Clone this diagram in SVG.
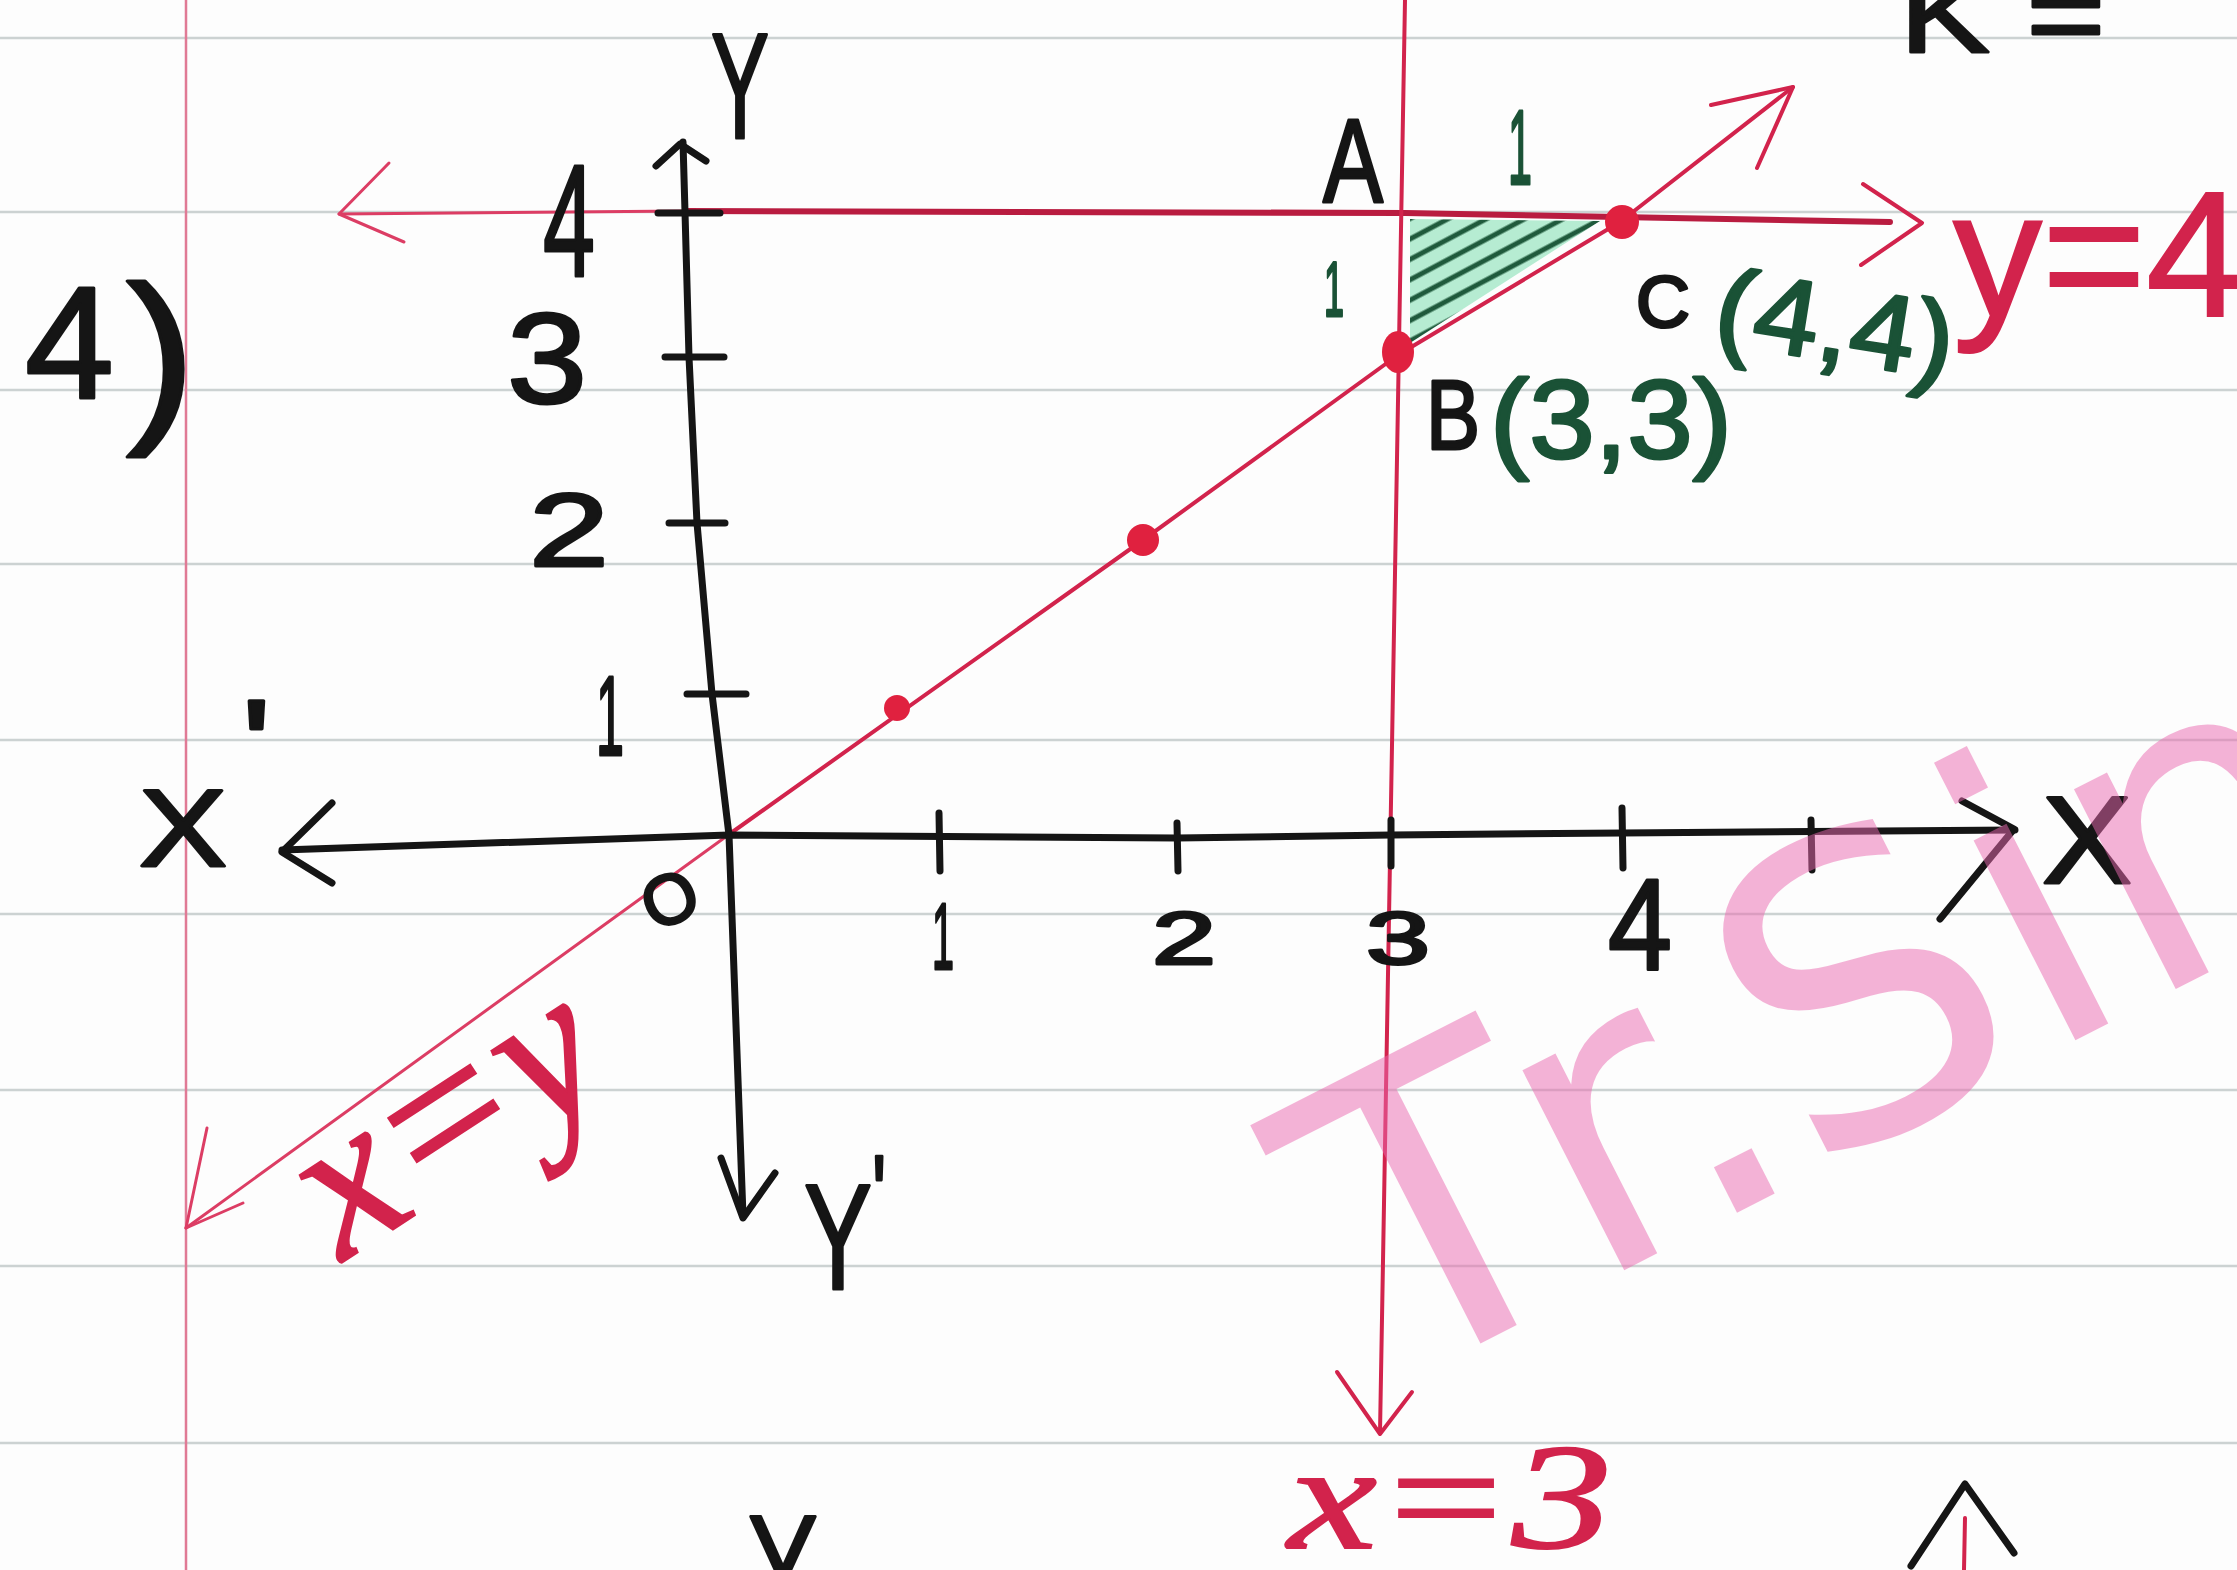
<svg xmlns="http://www.w3.org/2000/svg" width="2237" height="1570" viewBox="0 0 2237 1570">
<defs>
<style>
.rule{stroke:#ccd2d2;stroke-width:2.5;fill:none}
.margin{stroke:#e07a95;stroke-width:2.5;fill:none}
.ink{stroke:#151515;stroke-width:7;fill:none;stroke-linecap:round;stroke-linejoin:round}
.red{stroke:#d2234c;stroke-width:4;fill:none;stroke-linecap:round;stroke-linejoin:round}
.redthin{stroke:#dc3d64;stroke-width:3;fill:none;stroke-linecap:round;stroke-linejoin:round}
.t{font-family:"Liberation Sans",Arial,sans-serif;fill:#151515;stroke:#151515;stroke-width:3;stroke-linejoin:round}
.g{font-family:"Liberation Sans",Arial,sans-serif;fill:#1a5236;stroke:#1a5236;stroke-width:3;stroke-linejoin:round}
.rt{font-family:"Liberation Serif","Times New Roman",serif;font-style:italic;fill:#d2234c;stroke:#d2234c;stroke-width:2}
.rs{font-family:"Liberation Sans",Arial,sans-serif;fill:#d2234c;stroke:#d2234c;stroke-width:2}
.dot{fill:#e0213f}
</style>
<pattern id="hatch" patternUnits="userSpaceOnUse" width="18" height="18" patternTransform="rotate(-28)">
<rect width="18" height="18" fill="#b6ecd2"/>
<line x1="0" y1="9" x2="18" y2="9" stroke="#1f5a3c" stroke-width="5"/>
</pattern>
</defs>
<rect width="2237" height="1570" fill="#fdfdfd"/>

<g id="paper">
<line class="rule" x1="0" y1="38" x2="2237" y2="38"/>
<line class="rule" x1="0" y1="212" x2="2237" y2="212"/>
<line class="rule" x1="0" y1="390" x2="2237" y2="390"/>
<line class="rule" x1="0" y1="564" x2="2237" y2="564"/>
<line class="rule" x1="0" y1="740" x2="2237" y2="740"/>
<line class="rule" x1="0" y1="914" x2="2237" y2="914"/>
<line class="rule" x1="0" y1="1090" x2="2237" y2="1090"/>
<line class="rule" x1="0" y1="1266" x2="2237" y2="1266"/>
<line class="rule" x1="0" y1="1443" x2="2237" y2="1443"/>
<line class="margin" x1="186" y1="0" x2="186" y2="1570"/>
</g>

<g id="region">
<polygon points="1410,219 1600,221 1410,343" fill="url(#hatch)"/>
</g>

<g id="connectors">
<!-- y = 4 -->
<path class="redthin" d="M339,214 L685,211"/>
<path class="redthin" d="M389,163 L339,214 L404,242"/>
<path d="M685,211 L1405,213 L1890,222" stroke="#b91c40" stroke-width="6" fill="none" stroke-linecap="round"/>
<path class="red" d="M1863,184 L1922,223 L1861,265"/>
<!-- x = 3 -->
<path class="red" d="M1405,0 L1380,1433"/>
<path class="red" d="M1337,1372 L1380,1434 L1412,1392"/>
<!-- x = y -->
<path class="redthin" d="M186,1228 L731,833"/>
<path class="redthin" d="M207,1128 L186,1228 L243,1203"/>
<path class="red" d="M731,833 L1143,540 L1398,355 L1620,222 L1793,87"/>
<path class="red" d="M1711,105 L1793,87 L1757,168"/>
<!-- axes -->
<path class="ink" d="M282,850 L729,835 L1177,838 L1391,835 L1622,833 L2015,830"/>
<path class="ink" d="M332,803 L282,852 L332,883"/>
<path class="ink" d="M1962,801 L2014,829 L1940,919"/>
<path class="ink" d="M683,142 L685,212 L689,357 L697,523 L712,694 L729,835 L743,1216"/>
<path class="ink" stroke-width="5" d="M656,166 L680,144 L706,161"/>
<path class="ink" d="M721,1158 L743,1218 L775,1173"/>
<!-- ticks -->
<path class="ink" d="M658,213 L720,213 M665,357 L724,357 M669,523 L725,523 M687,694 L746,694"/>
<path class="ink" d="M939,813 L940,871 M1177,823 L1178,871 M1391,820 L1391,866 M1622,808 L1623,868 M1811,820 L1812,870"/>
</g>

<g id="points">
<circle class="dot" cx="897" cy="708" r="13"/>
<circle class="dot" cx="1143" cy="540" r="16"/>
<ellipse class="dot" cx="1398" cy="352" rx="16" ry="21"/>
<circle class="dot" cx="1622" cy="222" r="17"/>
</g>

<g id="labels">
<text class="t" x="25" y="398" font-size="160">4</text>
<text class="t" x="126" y="418" font-size="190" stroke-width="0" textLength="70" lengthAdjust="spacingAndGlyphs">)</text>
<text class="t" x="711" y="138" font-size="150" textLength="58" lengthAdjust="spacingAndGlyphs">Y</text>
<text class="t" x="543" y="276" font-size="160" textLength="52" lengthAdjust="spacingAndGlyphs">4</text>
<text class="t" x="507" y="403" font-size="128" textLength="80" lengthAdjust="spacingAndGlyphs">3</text>
<text class="t" x="529" y="566" font-size="104" textLength="80" lengthAdjust="spacingAndGlyphs">2</text>
<text class="t" x="596" y="755" font-size="114" textLength="28" lengthAdjust="spacingAndGlyphs">1</text>
<text class="t" transform="translate(139,866) scale(1.2,1)" font-size="110">X<tspan dx="12" dy="-76" font-size="130">'</tspan></text>
<text class="t" x="2042" y="883" font-size="125" textLength="90" lengthAdjust="spacingAndGlyphs">X</text>
<text class="t" transform="translate(680,921) rotate(-25)" text-anchor="middle" font-size="70">O</text>
<text class="t" x="932" y="969" font-size="95" textLength="22" lengthAdjust="spacingAndGlyphs">1</text>
<text class="t" x="1152" y="964" font-size="74" textLength="64" lengthAdjust="spacingAndGlyphs">2</text>
<text class="t" x="1366" y="964" font-size="74" textLength="64" lengthAdjust="spacingAndGlyphs">3</text>
<text class="t" x="1608" y="969" font-size="130" textLength="64" lengthAdjust="spacingAndGlyphs">4</text>
<text class="t" transform="translate(804,1289) scale(0.68,1)" font-size="150">Y<tspan dy="-57" font-size="110">'</tspan></text>
<text class="t" x="1323" y="202" font-size="118" textLength="60" lengthAdjust="spacingAndGlyphs">A</text>
<text class="g" x="1508" y="184" font-size="105" textLength="24" lengthAdjust="spacingAndGlyphs">1</text>
<text class="g" x="1324" y="316" font-size="78" textLength="20" lengthAdjust="spacingAndGlyphs">1</text>
<text class="t" x="1636" y="327" font-size="72" textLength="54" lengthAdjust="spacingAndGlyphs">C</text>
<text class="g" transform="translate(1711,342) rotate(9)" font-size="108" textLength="240" lengthAdjust="spacingAndGlyphs">(4,4)</text>
<text class="t" x="1426" y="449" font-size="98" textLength="54" lengthAdjust="spacingAndGlyphs">B</text>
<text class="g" x="1490" y="458" font-size="112" textLength="242" lengthAdjust="spacingAndGlyphs">(3,3)</text>
<text class="rs" x="1953" y="316" font-size="178" textLength="292" lengthAdjust="spacingAndGlyphs">y=4</text>
<text class="rt" transform="translate(480,1173) rotate(-33)" text-anchor="middle" font-size="210">x=y</text>
<text class="rt" x="1288" y="1548" font-size="150" textLength="324" lengthAdjust="spacingAndGlyphs">x=3</text>
<text class="t" x="1900" y="52" font-size="110" textLength="205" lengthAdjust="spacingAndGlyphs">K =</text>
<text class="t" x="748" y="1620" font-size="150" textLength="70" lengthAdjust="spacingAndGlyphs">Y</text>
<path class="ink" d="M1911,1566 L1965,1484 L2014,1553"/>
<path class="red" d="M1965,1518 L1964,1570"/>
</g>

<g id="watermark" transform="translate(1387,1391) rotate(-27)" opacity="0.5">
<text font-family="'DejaVu Sans',sans-serif" font-size="410" fill="#eb69b0" x="0 229 349 473 734 848" y="0">Tr.Sin</text>
</g>
</svg>
